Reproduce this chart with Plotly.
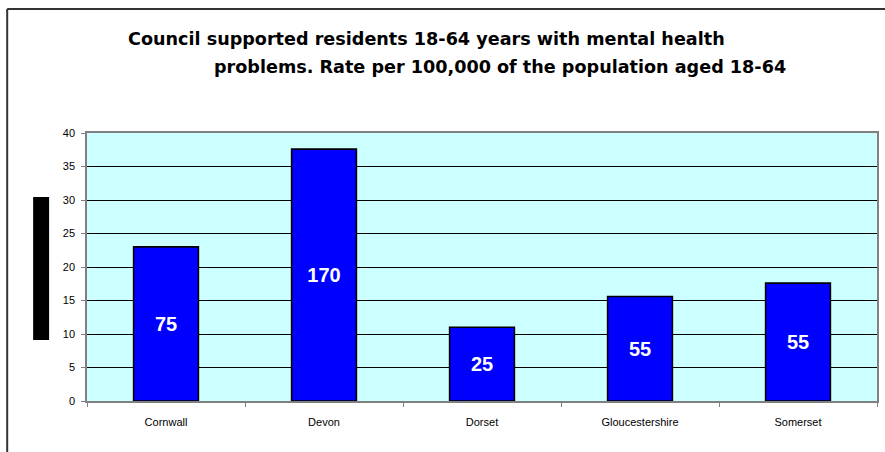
import plotly.graph_objects as go

categories = ["Cornwall", "Devon", "Dorset", "Gloucestershire", "Somerset"]
rates = [23.0, 37.6, 11.0, 15.6, 17.6]
bar_labels = ["75", "170", "25", "55", "55"]
y_ticks = [0, 5, 10, 15, 20, 25, 30, 35, 40]

W, H = 885, 452
L, R, T, B = 87, 6, 133, 51
pw, ph = W - L - R, H - T - B

def px(x):
    return (x - L) / pw

def py(y):
    return (H - B - y) / ph

fig = go.Figure()
fig.add_trace(go.Bar(
    x=categories, y=rates, text=bar_labels,
    textposition="inside", insidetextanchor="middle",
    textfont=dict(family="Liberation Sans, Arial", size=20, color="white", weight="bold"),
    constraintext="none",
    marker=dict(color="#0000FF", line=dict(color="black", width=1.6)),
    width=0.41, hoverinfo="skip",
))

title_font = dict(family="DejaVu Sans", size=17.6, weight="bold", color="black")

fig.update_layout(
    width=W, height=H,
    margin=dict(l=L, r=R, t=T, b=B),
    paper_bgcolor="white", plot_bgcolor="#CCFFFF",
    showlegend=False,
    font=dict(family="Liberation Sans, Arial", size=11, color="black"),
    xaxis=dict(
        showline=True, linecolor="#808080", linewidth=1.5, mirror=True,
        ticks="outside", tickson="boundaries", ticklen=4, tickcolor="#808080",
        showgrid=False, tickfont=dict(size=11), ticklabelstandoff=10,
    ),
    yaxis=dict(
        range=[0, 40], tickvals=y_ticks, showline=True, linecolor="#808080",
        linewidth=1.5, mirror=True, ticks="outside", ticklen=4, tickcolor="#808080",
        showgrid=True, gridcolor="black", gridwidth=1, zeroline=False,
        tickfont=dict(size=11), ticklabelstandoff=4,
    ),
    shapes=[
        dict(type="rect", xref="paper", yref="paper",
             x0=px(33), x1=px(49), y0=py(340), y1=py(197),
             fillcolor="black", line=dict(width=0)),
        dict(type="line", xref="paper", yref="paper",
             x0=px(7), x1=px(7), y0=py(9), y1=py(460),
             line=dict(color="#333333", width=2)),
        dict(type="line", xref="paper", yref="paper",
             x0=px(7), x1=px(890), y0=py(9), y1=py(9),
             line=dict(color="#333333", width=2)),
    ],
    annotations=[
        dict(text="Council supported residents 18-64 years with mental health",
             xref="paper", yref="paper", x=px(126), y=py(39),
             xanchor="left", yanchor="middle", showarrow=False,
             font=title_font),
        dict(text="problems. Rate per 100,000 of the population aged 18-64",
             xref="paper", yref="paper", x=px(212), y=py(67),
             xanchor="left", yanchor="middle", showarrow=False,
             font=title_font),
    ],
)

fig.write_html("out.html")
